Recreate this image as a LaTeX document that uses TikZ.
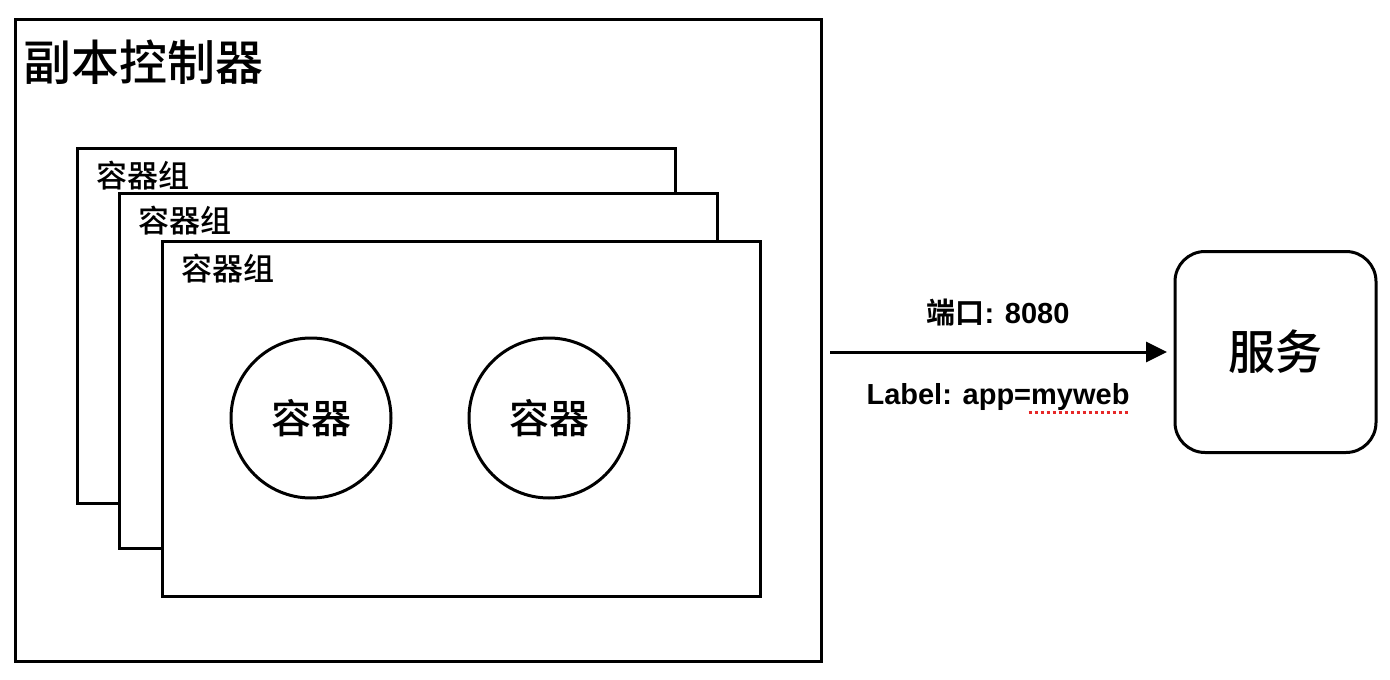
\documentclass[tikz,border=0pt]{standalone}
\usepackage{fontspec}
\setmainfont{Liberation Sans}
\newfontfamily\cjk{Noto Sans CJK SC}[UprightFont={* Medium},BoldFont={* Bold}]
\usetikzlibrary{arrows.meta}
\definecolor{spellred}{RGB}{230,40,40}
\begin{document}
\begin{tikzpicture}[x=1pt,y=-1pt,
  frame/.style={draw,line width=3pt,fill=white,inner sep=0pt,outer sep=0pt},
  podbox/.style={frame,minimum width=598pt,minimum height=355pt,anchor=north west},
  podlabel/.style={anchor=west,inner sep=0pt,font=\cjk\fontsize{31}{33}\selectfont},
  ctr/.style={frame,circle,minimum size=160pt,font=\cjk\fontsize{40}{42}\selectfont},
  lbl/.style={inner sep=0pt,font=\bfseries\fontsize{29}{32}\selectfont},
  arr/.style={line width=3pt,-{Triangle[length=21pt,width=20pt]}}]
\useasboundingbox (0,0) rectangle (1390,680);
% outer replication controller box
\node[frame,minimum width=806pt,minimum height=642pt,anchor=north west] (rc) at (15,19) {};
\node[anchor=west,inner sep=0pt,font=\cjk\fontsize{48}{50}\selectfont] (rctitle) at (23,62) {副本控制器};
% pods
\node[podbox] (p1) at (77,148) {};
\node[podlabel] (p1l) at ([xshift=19pt,yshift=-28pt]p1.north west) {容器组};
\node[podbox] (p2) at (119,193) {};
\node[podlabel] (p2l) at ([xshift=19pt,yshift=-28pt]p2.north west) {容器组};
\node[podbox] (p3) at (162,241) {};
\node[podlabel] (p3l) at ([xshift=19pt,yshift=-28pt]p3.north west) {容器组};
% containers
\node[ctr] (c1) at (311,418) {容器};
\node[ctr] (c2) at (549,418) {容器};
% service
\node[frame,rounded corners=30pt,minimum width=201pt,minimum height=201pt,font=\cjk\fontsize{47}{49}\selectfont] (svc) at (1275.5,352) {服务};
% arrow
\coordinate (src) at (830,352);
\draw[arr,shorten >=8pt] (src) -- (svc.west);
\node[lbl] (port) at (998,313) {{\cjk 端口}: 8080};
\node[lbl] (label) at (998,397) {Label: app=myweb};
\draw[spellred,line width=2.5pt,dash pattern=on 3pt off 3pt] ([xshift=-101pt,yshift=-2pt]label.south east) -- ([yshift=-2pt]label.south east);
\end{tikzpicture}
\end{document}
